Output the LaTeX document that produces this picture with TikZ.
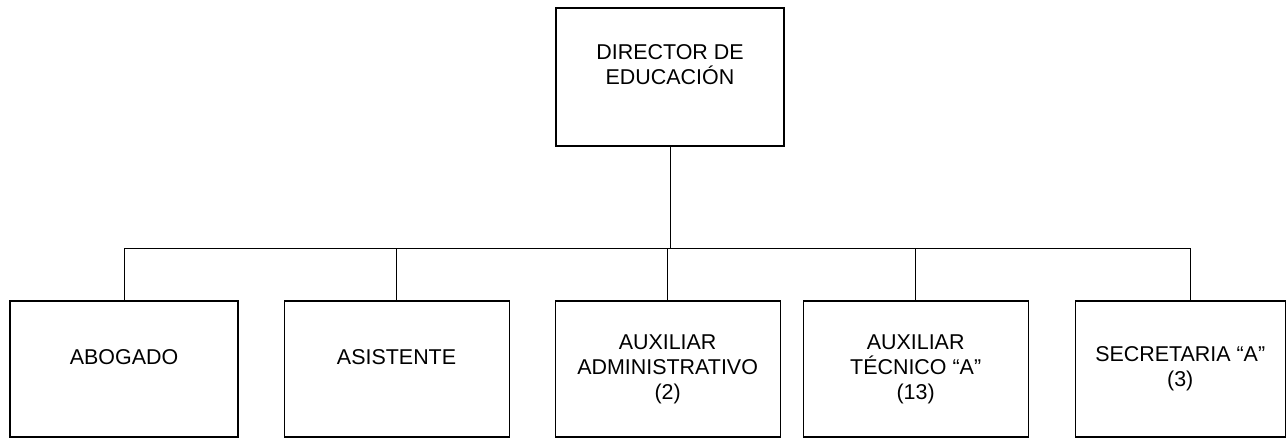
\documentclass[tikz,border=0pt]{standalone}
\usepackage{fontspec}
\setmainfont{Liberation Sans}
\usetikzlibrary{positioning}

\begin{document}
\begin{tikzpicture}[
  font=\fontsize{12.2}{14.2}\selectfont,
  box/.style={draw, line width=0.6pt, align=center, minimum width=4.5cm, minimum height=2.72cm, inner sep=2pt},
  uptext/.style={text depth=14pt},
  link/.style={line width=0.5pt}
]
\useasboundingbox (0,0) rectangle (25.74,-8.88);
\node[box, uptext, minimum width=4.56cm, minimum height=2.76cm] (dir) at (13.4,-1.54) {DIRECTOR DE\\ EDUCACIÓN};
\node[box, uptext, minimum width=4.56cm] (abo) at (2.48,-7.38) {ABOGADO};
\node[box, uptext, right=0.9cm of abo] (asi) {ASISTENTE};
\node[box, right=0.9cm of asi] (aux) {AUXILIAR\\ ADMINISTRATIVO\\ (2)};
\node[box, right=0.44cm of aux] (tec) {AUXILIAR\\ TÉCNICO “A”\\ (13)};
\node[box, minimum width=4.2cm, right=0.92cm of tec] (sec) {SECRETARIA “A”\\ (3)};

\coordinate (bus) at (0,-4.96);
\draw[link] (dir.south) -- (dir.south |- bus);
\draw[link] (abo.north) -- (abo.north |- bus) -| ([xshift=5.7pt]sec.north);
\foreach \n in {asi,aux,tec}
  \draw[link] (\n.north) -- (\n.north |- bus);
\end{tikzpicture}
\end{document}
